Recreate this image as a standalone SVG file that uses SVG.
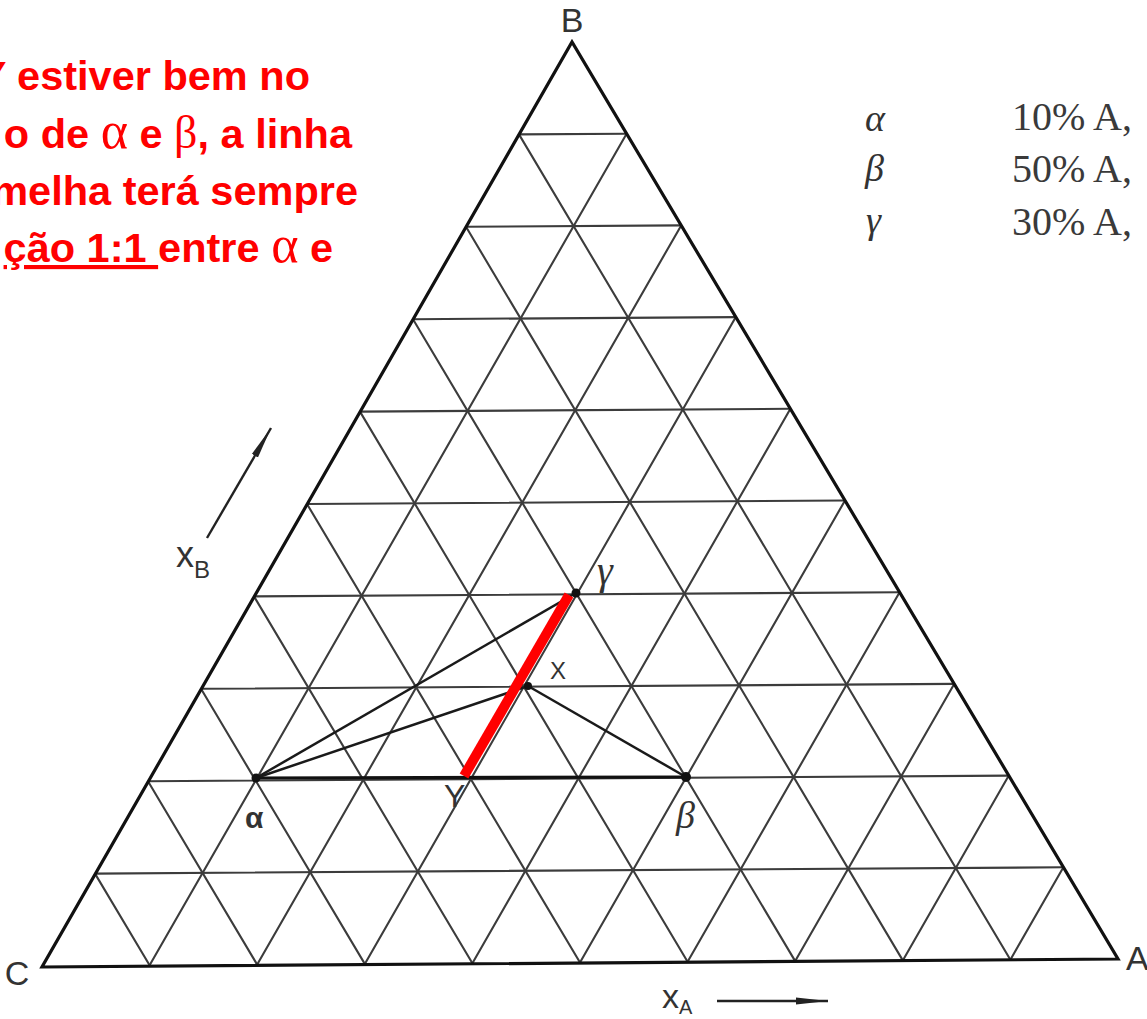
<svg xmlns="http://www.w3.org/2000/svg" width="1147" height="1019" viewBox="0 0 1147 1019">
<defs>
<style>
.grid{stroke:#3c3c3c;stroke-width:2.1;fill:none}
.edge{stroke:#111;stroke-width:3.2;fill:none;stroke-linejoin:miter}
.tie{stroke:#1a1a1a;stroke-width:2.5;fill:none}
.base{stroke:#111;stroke-width:3.2;fill:none}
.red-line{stroke:#ff0000;stroke-width:10;fill:none;stroke-linecap:butt}
.dot{fill:#111}
.lbl{font-family:"Liberation Sans",Arial,sans-serif;fill:#333}
.gr{font-family:"Liberation Serif","Times New Roman",serif;font-style:italic;fill:#333}
.red{font-family:"Liberation Sans",Arial,sans-serif;font-weight:bold;font-size:41.5px;fill:#ff0000}
.sym{font-family:"Liberation Serif","Times New Roman",serif;font-weight:normal}
.leg{font-family:"Liberation Serif","Times New Roman",serif;font-size:40px;fill:#3a3a3a}
.axis{stroke:#222;stroke-width:2.4;fill:none}
</style>
<marker id="arr" viewBox="0 0 32 10" refX="32" refY="5" markerWidth="32" markerHeight="10" markerUnits="userSpaceOnUse" orient="auto">
<path d="M0,1.5 L32,5 L0,8.5 Z" fill="#222"/>
</marker>
</defs>
<rect width="1147" height="1019" fill="#ffffff"/>

<g id="grid">
<path class="grid" d="M95 873.6L1063.4 867.3M148 781.2L1008.8 775.6M201 688.8L954.2 683.9M254 596.4L899.6 592.2M307 504L845 500.5M360 411.6L790.4 408.8M413 319.2L735.8 317.1M466 226.8L681.2 225.4M519 134.4L626.6 133.7"/>
<path class="grid" d="M626.6 133.7L149.6 965.3M681.2 225.4L257.2 964.6M735.8 317.1L364.8 963.9M790.4 408.8L472.4 963.2M845 500.5L580 962.5M899.6 592.2L687.6 961.8M954.2 683.9L795.2 961.1M1008.8 775.6L902.8 960.4M1063.4 867.3L1010.4 959.7"/>
<path class="grid" d="M519 134.4L1010.4 959.7M466 226.8L902.8 960.4M413 319.2L795.2 961.1M360 411.6L687.6 961.8M307 504L580 962.5M254 596.4L472.4 963.2M201 688.8L364.8 963.9M148 781.2L257.2 964.6M95 873.6L149.6 965.3"/>
</g>

<g id="triangle">
<path class="edge" d="M42 967L1118 959L572 42Z"/>
<text class="lbl" x="572" y="32" font-size="34" text-anchor="middle">B</text>
<text class="lbl" x="17" y="985" font-size="34" text-anchor="middle">C</text>
<text class="lbl" x="1126" y="970" font-size="34">A</text>
</g>

<g id="axis-xB">
<line class="axis" x1="207" y1="538" x2="271" y2="428" marker-end="url(#arr)"/>
<text class="lbl" x="176" y="567" font-size="36">x<tspan font-size="24" dy="11">B</tspan></text>
</g>
<g id="axis-xA">
<line class="axis" x1="717" y1="1001" x2="828" y2="1001" marker-end="url(#arr)"/>
<text class="lbl" x="662" y="1008" font-size="34">x<tspan font-size="20" dy="6">A</tspan></text>
</g>

<g id="connectors">
<path class="base" d="M256 778L686 777"/>
<path class="tie" d="M256 778L576 593"/>
<path class="tie" d="M256 778L528 686"/>
<path class="tie" d="M528 686L686 777"/>
<path class="red-line" d="M569 595L464 776"/>
</g>

<g id="node-alpha">
<circle class="dot" cx="256" cy="778" r="4.5"/>
<text class="lbl" x="245" y="828" font-size="30" font-weight="bold">α</text>
</g>
<g id="node-beta">
<circle class="dot" cx="686" cy="777" r="5"/>
<text class="gr" x="676" y="828" font-size="38">β</text>
</g>
<g id="node-gamma">
<circle class="dot" cx="576" cy="593" r="4.5"/>
<text class="gr" x="597" y="584" font-size="40">γ</text>
</g>
<g id="node-X">
<circle class="dot" cx="528" cy="686" r="4"/>
<text class="lbl" x="550" y="679" font-size="24">X</text>
</g>
<g id="node-Y">
<text class="lbl" x="444" y="807" font-size="32">Y</text>
</g>

<g id="legend">
<text class="gr" x="865" y="131" font-size="38">α</text>
<text class="gr" x="865" y="181" font-size="38">β</text>
<text class="gr" x="866" y="233" font-size="38">γ</text>
<text class="leg" x="1012" y="130">10% A,</text>
<text class="leg" x="1012" y="182">50% A,</text>
<text class="leg" x="1012" y="235">30% A,</text>
</g>

<g id="note">
<text class="red" x="310" y="90" text-anchor="end">Y estiver bem no</text>
<text class="red" x="352" y="148" text-anchor="end">o de <tspan class="sym" font-size="52">α</tspan> e <tspan class="sym" font-size="46">β</tspan>, a linha</text>
<text class="red" x="358" y="205" text-anchor="end">melha terá sempre</text>
<text class="red" x="333" y="262" text-anchor="end"><tspan text-decoration="underline">ção 1:1 </tspan>entre <tspan class="sym" font-size="52">α</tspan> e</text>
</g>
</svg>
